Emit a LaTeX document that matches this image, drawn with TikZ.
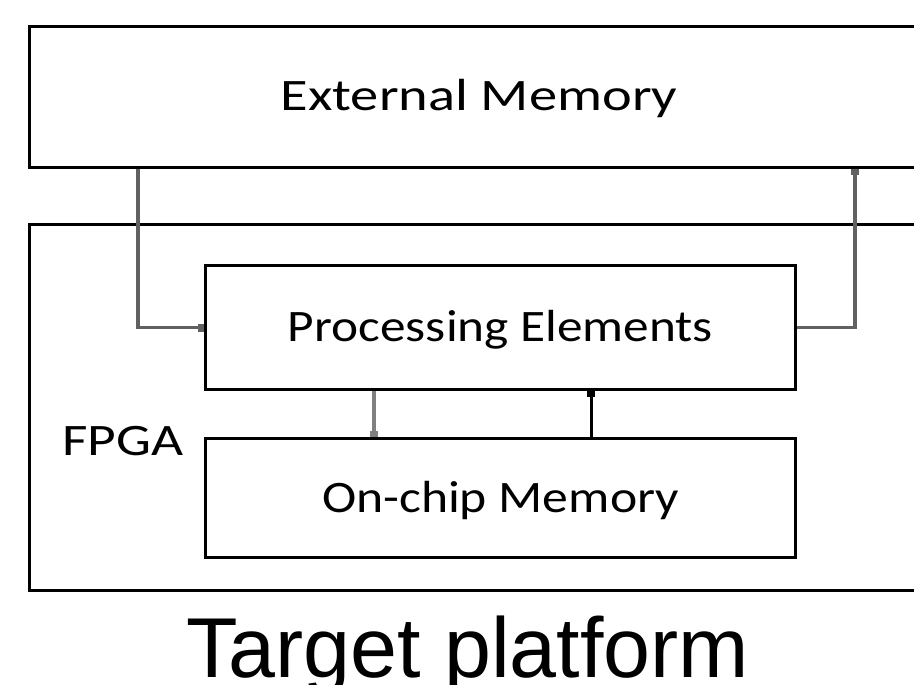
\documentclass[tikz,border=0pt]{standalone}
\usepackage{fontspec}
\usepackage{graphicx}
\setmainfont{Carlito}
\newfontfamily\titlefont{Liberation Sans}
\usetikzlibrary{arrows.meta}

% stretch a label to a given width, keeping its height
\newcommand\wtext[2]{\resizebox{#1}{\height}{#2}}

\tikzset{
  blk/.style={draw=black, line width=3pt, rectangle, inner sep=0pt,
    text height=28pt, text depth=0pt,
    font=\fontsize{45}{45}\selectfont},
  arr/.style={line width=3.6pt, draw=#1,
    -{Square[length=6pt,width=8pt,fill=black!80]}},
  arr/.default={black!62},
}

\begin{document}
\begin{tikzpicture}[x=1pt,y=-1pt]
  \useasboundingbox (0,0) rectangle (914,685);
  \clip (0,0) rectangle (914,685);

  % outer blocks (run off the right edge)
  \node[blk, minimum width=900pt, minimum height=141pt] (ext) at (479,97)
    {\wtext{397pt}{External Memory}};
  \node[blk, minimum width=900pt, minimum height=365.5pt] (fpga) at (479,407.25) {};
  \node[anchor=base west, inner sep=0pt, font=\fontsize{45}{45}\selectfont]
    (fpgalabel) at (62,455) {\wtext{121pt}{FPGA}};

  % inner blocks
  \node[blk, minimum width=590pt, minimum height=124pt] (pe) at (500.5,327.5)
    {\wtext{425pt}{Processing Elements}};
  \node[blk, minimum width=590pt, minimum height=119pt] (ocm) at (500.5,498)
    {\wtext{357pt}{On-chip Memory}};

  % data paths
  \draw[arr] ([xshift=-341pt]ext.south) |- (pe.west);
  \draw[arr] (pe.east) -| ([xshift=376pt]ext.south);
  \draw[arr={black!50}] ([xshift=-126.5pt]pe.south) -- ([xshift=-126.5pt]ocm.north);
  \draw[arr={black}, line width=3pt] ([xshift=90.5pt]ocm.north) -- ([xshift=90.5pt]pe.south);

  % caption
  \node[anchor=base west, inner sep=0pt, font=\titlefont\fontsize{85}{85}\selectfont]
    (caption) at (186,677) {\wtext{563pt}{Target platform}};
\end{tikzpicture}
\end{document}
